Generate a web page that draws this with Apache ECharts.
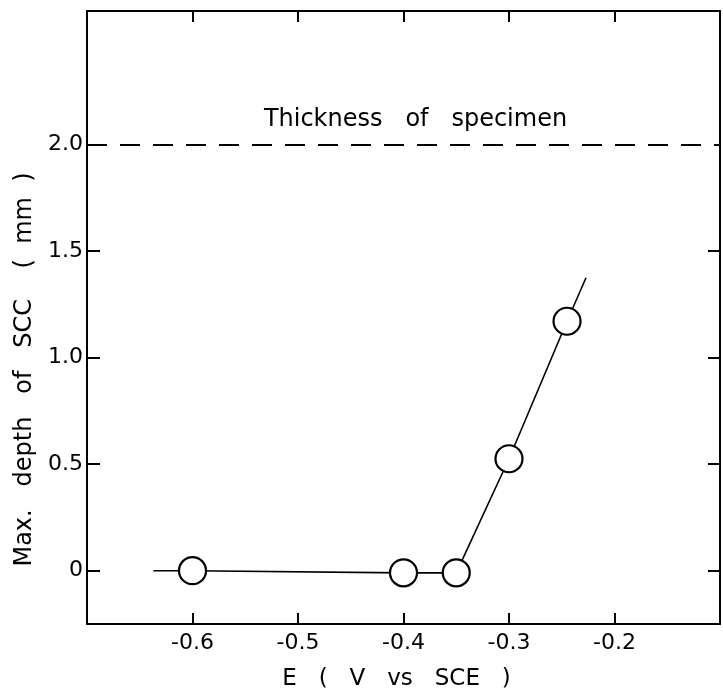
<!DOCTYPE html>
<html>
<head>
<meta charset="utf-8">
<script src="https://cdn.jsdelivr.net/npm/echarts@6/dist/echarts.min.js"></script>
<style>
  html, body { margin: 0; padding: 0; background: #fff; }
  #chart { width: 723px; height: 695px; }
</style>
</head>
<body>
<div id="chart"></div>
<script>
// measured points (circles)
const potentialE = [-0.6, -0.4, -0.35, -0.3, -0.245]
const depthSCC = [0, -0.01, -0.01, 0.525, 1.17]
// ends of the drawn line beyond the first / last circle
const lineHeadE = -0.637
const lineHeadDepth = 0
const lineTailE = -0.227
const lineTailDepth = 1.374
// specimen thickness
const thickness = 2.0
const xTicks = [-0.6, -0.5, -0.4, -0.3, -0.2]
const yTicks = [0, 0.5, 1.0, 1.5, 2.0]
const yTicksRight = [0, 0.5, 1.0, 1.5]

const font = 'DejaVu Sans'

const lineData = [{ value: [lineHeadE, lineHeadDepth], symbol: 'none' }]
potentialE.forEach((e, i) => lineData.push([e, depthSCC[i]]))
lineData.push({ value: [lineTailE, lineTailDepth], symbol: 'none' })

const chart = echarts.init(document.getElementById('chart'))
const axisLine = { show: true, onZero: false, lineStyle: { color: '#000', width: 2 } }
const tickStyle = { color: '#000', width: 2 }
const option = {
  backgroundColor: '#fff',
  animation: false,
  grid: { left: 87, right: 3, top: 11, bottom: 71, containLabel: false, outerBoundsMode: 'none' },
  xAxis: [
    {
      type: 'value',
      min: -0.7,
      max: -0.1,
      axisLine: axisLine,
      axisTick: { show: true, inside: true, length: 11, customValues: xTicks, lineStyle: tickStyle },
      axisLabel: {
        customValues: xTicks,
        color: '#000',
        fontFamily: font,
        fontSize: 22,
        margin: 8,
        formatter: v => v.toFixed(1)
      },
      splitLine: { show: false },
      name: 'E   (   V   vs   SCE   )',
      nameLocation: 'middle',
      nameGap: 44,
      nameTextStyle: { color: '#000', fontFamily: font, fontSize: 23, padding: [0, 14, 0, 0] }
    },
    {
      type: 'value',
      position: 'top',
      min: -0.7,
      max: -0.1,
      axisLine: axisLine,
      axisTick: { show: true, inside: true, length: 11, customValues: xTicks, lineStyle: tickStyle },
      axisLabel: { show: false },
      splitLine: { show: false }
    }
  ],
  yAxis: [
    {
      type: 'value',
      min: -0.25,
      max: 2.625,
      axisLine: axisLine,
      axisTick: { show: true, inside: true, length: 13, customValues: yTicks, lineStyle: tickStyle },
      axisLabel: {
        customValues: yTicks,
        color: '#000',
        fontFamily: font,
        fontSize: 22,
        margin: 4,
        formatter: v => (v === 0 ? '0' : v.toFixed(1))
      },
      splitLine: { show: false },
      name: 'Max.   depth   of   SCC    (  mm  )',
      nameLocation: 'middle',
      nameGap: 50,
      nameTextStyle: { color: '#000', fontFamily: font, fontSize: 24, padding: [0, 104, 0, 0] }
    },
    {
      type: 'value',
      position: 'right',
      min: -0.25,
      max: 2.625,
      axisLine: axisLine,
      axisTick: { show: true, inside: true, length: 12, customValues: yTicksRight, lineStyle: tickStyle },
      axisLabel: { show: false },
      splitLine: { show: false }
    }
  ],
  series: [
    {
      type: 'line',
      data: lineData,
      symbol: 'circle',
      symbolSize: 27,
      showAllSymbol: true,
      lineStyle: { color: '#000', width: 1.6 },
      itemStyle: { color: '#fff', borderColor: '#000', borderWidth: 2.2 },
      z: 3,
      markLine: {
        silent: true,
        symbol: 'none',
        data: [{ yAxis: thickness }],
        lineStyle: { color: '#000', width: 2, type: [20, 13] },
        label: {
          show: true,
          position: 'insideMiddleTop',
          formatter: 'Thickness   of   specimen',
          color: '#000',
          fontFamily: font,
          fontSize: 24,
          distance: 12,
          padding: [0, 0, 0, 24]
        }
      }
    }
  ]
}
chart.setOption(option)
window.addEventListener('resize', () => chart.resize())
</script>
</body>
</html>
